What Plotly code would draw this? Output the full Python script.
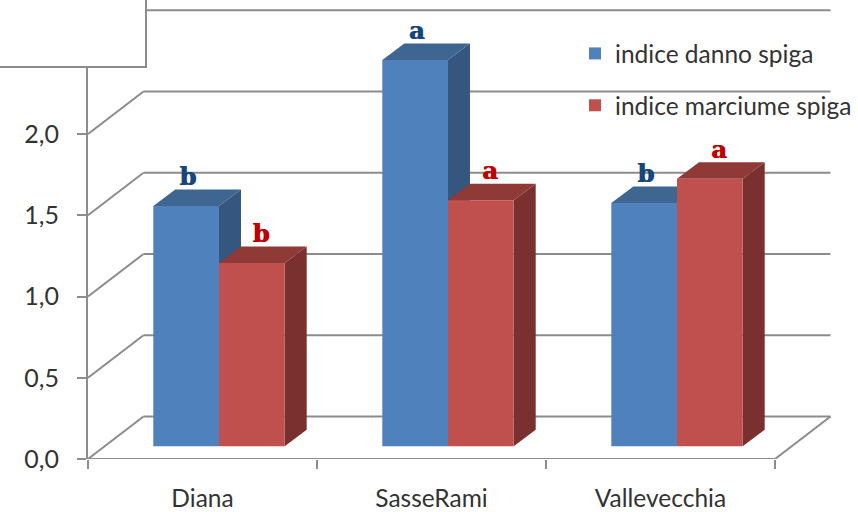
import plotly.graph_objects as go

categories = ["Diana", "SasseRami", "Vallevecchia"]
danno = [1.479, 2.377, 1.497]
marciume = [1.128, 1.514, 1.647]
danno_letters = ["b", "a", "b"]
marciume_letters = ["b", "a", "a"]
y_ticks = [0.0, 0.5, 1.0, 1.5, 2.0]
y_labels = ["0,0", "0,5", "1,0", "1,5", "2,0"]
grid_levels = [0.0, 0.5, 1.0, 1.5, 2.0, 2.5]

PX_X, PX_Y = 229.0, 162.5
X0, X1 = -0.5, -0.5 + 770 / PX_X
Y1 = 459 / PX_Y
DX, DY = 55.5 / PX_X, 42.5 / PX_Y       # depth of the chart box
BX, BY = 22 / PX_X, 16.5 / PX_Y         # depth of a bar
BASE = 12.7 / PX_Y
W = 65.7 / PX_X
SHIFT = 16.5 / PX_X
GRID = "#8c8c8c"
FONT = "Lato"


def poly(pts):
    return "M" + " L".join(f"{x:.4f},{y:.4f}" for x, y in pts) + " Z"


shapes = []
for v in grid_levels:
    shapes.append(dict(type="line", x0=X0, y0=v, x1=X0 + DX, y1=v + DY, layer="below",
                       line=dict(color=GRID, width=2)))
    shapes.append(dict(type="line", x0=X0 + DX, y0=v + DY, x1=2.5 + DX, y1=v + DY, layer="below",
                       line=dict(color=GRID, width=2)))
shapes.append(dict(type="line", x0=2.5, y0=0, x1=2.5 + DX, y1=DY, layer="below", line=dict(color=GRID, width=2)))
shapes.append(dict(type="line", x0=X0, y0=0, x1=2.5, y1=0, layer="below", line=dict(color=GRID, width=2)))


def faces(values, left_off, top_col, side_col):
    for i, v in enumerate(values):
        l = i + left_off
        r = l + W
        t = BASE + v
        shapes.append(dict(type="path", layer="below", line=dict(width=0), fillcolor=side_col,
                           path=poly([(r, BASE), (r + BX, BASE + BY), (r + BX, t + BY), (r, t)])))
        shapes.append(dict(type="path", layer="below", line=dict(width=0), fillcolor=top_col,
                           path=poly([(l, t), (r, t), (r + BX, t + BY), (l + BX, t + BY)])))


BLUE_OFF = SHIFT - W
RED_OFF = SHIFT
faces(danno, BLUE_OFF, "#3f6591", "#34567f")
faces(marciume, RED_OFF, "#8f3a37", "#7a302e")

# the white box in the top-left corner
shapes.append(dict(type="rect", xref="paper", yref="paper", layer="above",
                   x0=-88 / 770 - 0.01, x1=(146 - 88) / 770, y0=1 - 67 / 459, y1=1.02,
                   fillcolor="white", line=dict(color=GRID, width=2)))

fig = go.Figure()
xs = list(range(len(categories)))
fig.add_trace(go.Bar(x=xs, y=danno, base=BASE, width=W, offset=BLUE_OFF, name="indice danno spiga",
                     marker=dict(color="#4f81bd", line=dict(width=0)), legendgroup="a"))
fig.add_trace(go.Bar(x=xs, y=marciume, base=BASE, width=W, offset=RED_OFF, name="indice marciume spiga",
                     marker=dict(color="#c0504d", line=dict(width=0)), legendgroup="b"))
fig.add_trace(go.Scatter(x=[i + SHIFT - W / 2 + 1.5 / PX_X for i in xs],
                         y=[BASE + v + 27 / PX_Y for v in danno], mode="text", text=danno_letters,
                         textfont=dict(family="DejaVu Serif", size=24, color="#17467f", weight="bold",
                                       shadow="1px 0 0 #17467f"),
                         showlegend=False, hoverinfo="skip", cliponaxis=False))
fig.add_trace(go.Scatter(x=[i + SHIFT + W / 2 + 9 / PX_X for i in xs],
                         y=[BASE + v + 27 / PX_Y for v in marciume], mode="text", text=marciume_letters,
                         textfont=dict(family="DejaVu Serif", size=24, color="#c00000", weight="bold",
                                       shadow="1px 0 0 #c00000"),
                         showlegend=False, hoverinfo="skip", cliponaxis=False))

fig.update_layout(
    width=858, height=512, autosize=False,
    margin=dict(l=88, r=0, t=0, b=53, autoexpand=False),
    paper_bgcolor="white", plot_bgcolor="rgba(0,0,0,0)",
    barmode="overlay", shapes=shapes, showlegend=True,
    font=dict(family=FONT, color="#333333", size=23),
    legend=dict(x=(575 - 88) / 770, y=1 - 31 / 459, xanchor="left", yanchor="top",
                bgcolor="rgba(0,0,0,0)", borderwidth=0, tracegroupgap=17,
                font=dict(family=FONT, size=24.5, color="#333333")),
    xaxis=dict(range=[X0, X1], showgrid=False, zeroline=False, showline=False, automargin=False,
               tickmode="array", tickvals=xs, ticktext=categories,
               ticks="outside", ticklen=18, tickcolor="rgba(0,0,0,0)",
               tickfont=dict(family=FONT, size=24.5, color="#333333"),
               minor=dict(tickmode="array", tickvals=[-0.5, 0.5, 1.5, 2.5], ticks="outside",
                          ticklen=9, tickwidth=2, tickcolor=GRID, showgrid=False)),
    yaxis=dict(range=[0, Y1], showgrid=False, zeroline=False, showline=True, linecolor=GRID, linewidth=2,
               automargin=False, tickmode="array", tickvals=y_ticks, ticktext=y_labels,
               ticks="outside", ticklen=9, tickwidth=2, tickcolor=GRID, ticklabelstandoff=13,
               tickfont=dict(family=FONT, size=25, color="#333333")),
)
fig.write_html("out.html", config={"displayModeBar": False},
               post_script="document.body.style.margin='0';document.body.style.overflow='hidden';")
